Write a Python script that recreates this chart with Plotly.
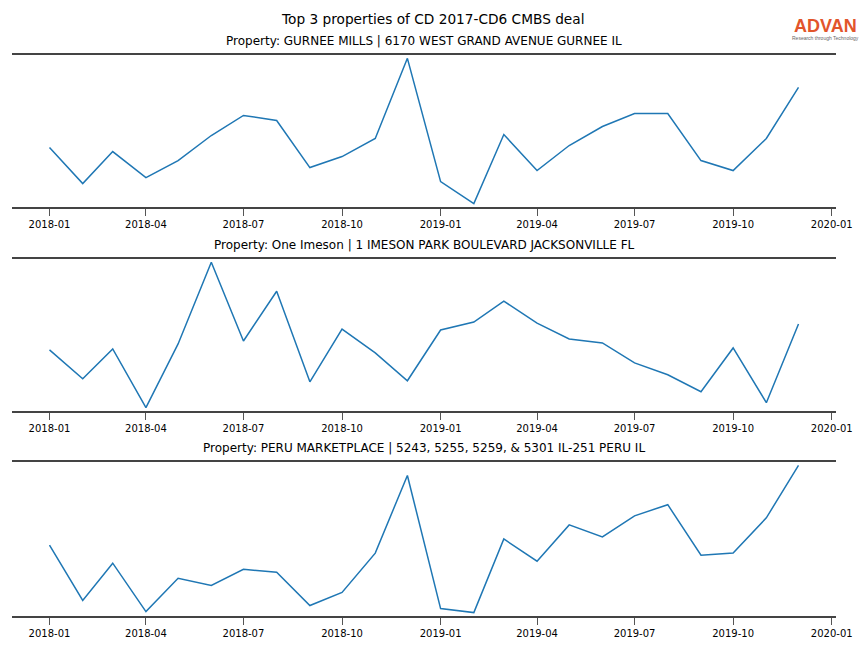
import plotly.graph_objects as go
import pandas as pd

months = pd.date_range("2018-01-01", "2019-12-01", freq="MS")

titles = [
    "Property: GURNEE MILLS | 6170 WEST GRAND AVENUE GURNEE IL",
    "Property: One Imeson | 1 IMESON PARK BOULEVARD JACKSONVILLE FL",
    "Property: PERU MARKETPLACE | 5243, 5255, 5259, & 5301 IL-251 PERU IL",
]
gurnee = [59, 23, 55, 29, 46, 71, 91, 86, 39, 50, 68, 148,
          25, 3, 72, 36, 61, 80, 93, 93, 46, 36, 68, 119]
imeson = [61, 32, 62, 3, 67, 149, 70, 120, 29, 82, 58, 30,
          81, 89, 110, 88, 72, 68, 48, 36, 19, 63, 8, 87]
peru = [71, 16, 53, 5, 38, 31, 47, 44, 11, 24, 63, 140,
        8, 4, 77, 55, 91, 79, 100, 111, 61, 63, 98, 150]
series = [gurnee, imeson, peru]

W, H = 864, 648
panels_px = [(55, 207), (259, 411), (462, 616)]
L, R = 12, 836

fig = go.Figure()
font_family = "DejaVu Sans"


def px_x(x):
    return (x - L) / (R - L)


for i, (vals, (top, bot)) in enumerate(zip(series, panels_px)):
    n = i + 1
    xa = "x" if n == 1 else f"x{n}"
    ya = "y" if n == 1 else f"y{n}"
    fig.add_trace(go.Scatter(x=months, y=vals, mode="lines",
                             line=dict(color="#1f77b4", width=1.5),
                             xaxis=xa, yaxis=ya, showlegend=False,
                             hoverinfo="x+y"))
    lo, hi = min(vals), max(vals)
    span = hi - lo
    dom = [1 - bot / H, 1 - top / H]
    xkey = "xaxis" if n == 1 else f"xaxis{n}"
    ykey = "yaxis" if n == 1 else f"yaxis{n}"
    fig.update_layout(**{
        xkey: dict(
            domain=[0, 1], anchor=ya,
            range=["2017-11-27", "2020-01-05"],
            type="date", tick0="2018-01-01", dtick="M3", tickformat="%Y-%m",
            showline=True, mirror=True, linecolor="#444444", linewidth=2,
            ticks="outside", ticklen=7, tickcolor="#555555", tickwidth=1,
            showgrid=False, zeroline=False,
            tickfont=dict(family=font_family, size=10, color="black"),
        ),
        ykey: dict(
            domain=dom, anchor=xa,
            range=[lo - 0.023 * span, hi + 0.023 * span],
            showticklabels=False, showgrid=False, zeroline=False,
            showline=False, ticks="",
        ),
    })
    fig.add_annotation(text=titles[i], xref="paper", yref="paper",
                       x=0.5, y=1 - (top - 5) / H, xanchor="center",
                       yanchor="bottom", showarrow=False,
                       font=dict(family=font_family, size=12, color="black"))

fig.add_annotation(text="Top 3 properties of CD 2017-CD6 CMBS deal",
                   xref="paper", yref="paper", x=px_x(432),
                   y=1 - 19 / H, xanchor="center", yanchor="middle",
                   showarrow=False,
                   font=dict(family=font_family, size=13.7, color="black"))

fig.add_annotation(text="<b>ADVAN</b>", xref="paper", yref="paper",
                   x=px_x(825), y=1 - 26 / H, xanchor="center",
                   yanchor="middle", showarrow=False,
                   font=dict(family="Liberation Sans", size=18, color="#e2552b"))
fig.add_annotation(text="Research through Technology", xref="paper", yref="paper",
                   x=px_x(825), y=1 - 38.5 / H, xanchor="center",
                   yanchor="middle", showarrow=False,
                   font=dict(family="Liberation Sans", size=5, color="#666666"))

fig.update_layout(
    width=W, height=H,
    margin=dict(l=L, r=W - R, t=0, b=0),
    paper_bgcolor="white", plot_bgcolor="white",
    font=dict(family=font_family),
)

fig.write_html("out.html", config={"displayModeBar": False},
               post_script="document.body.style.margin='0';document.body.style.overflow='hidden';")
